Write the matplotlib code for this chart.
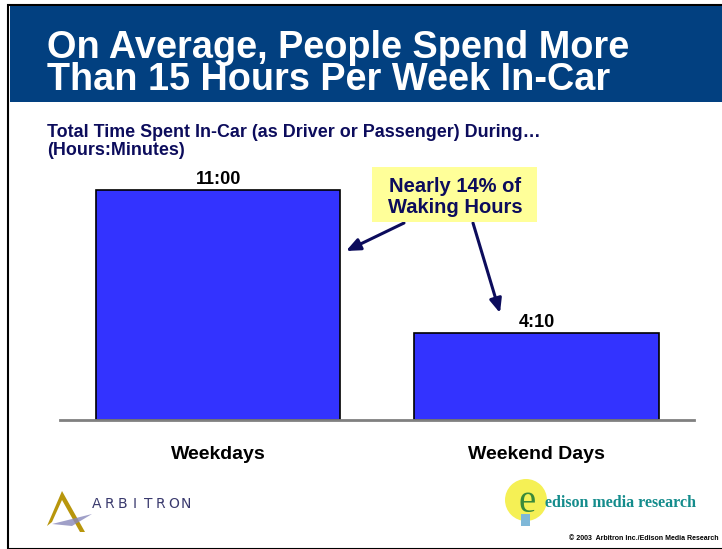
import matplotlib
matplotlib.use('Agg')
import matplotlib.pyplot as plt
from matplotlib.patches import Rectangle, Ellipse, Polygon, FancyArrowPatch
import numpy as np

# data: minutes spent in-car
categories = ['Weekdays', 'Weekend Days']
minutes = [660, 250]
value_labels = ['11:00', '4:10']

title = 'On Average, People Spend More\nThan 15 Hours Per Week In-Car'
subtitle = 'Total Time Spent In-Car (as Driver or Passenger) During\u2026\n(Hours:Minutes)'
callout = 'Nearly 14% of\nWaking Hours'

W, H = 722, 549
NAVY = '#0c0c5c'
plt.rcParams['font.family'] = ['Liberation Sans', 'DejaVu Sans']

fig = plt.figure(figsize=(W / 100, H / 100), dpi=100)
fig.patch.set_facecolor('white')

def fx(x):
    return x / W

def fy(y):
    return 1 - y / H

# frame and header band
fig.patches.append(Rectangle((fx(8), fy(549)), 1, fy(5) - fy(549), transform=fig.transFigure,
                             facecolor='none', edgecolor='black', lw=1.5))
fig.patches.append(Rectangle((fx(10), fy(102)), 1, fy(6) - fy(102), transform=fig.transFigure,
                             facecolor='#024080', edgecolor='none'))
fig.text(fx(47), fy(90), title, color='white', fontsize=27.3, fontweight='bold',
         va='baseline', ha='left', linespacing=0.87)

fig.text(fx(47), fy(159), subtitle, color=NAVY, fontsize=12.9, fontweight='bold',
         va='bottom', ha='left', linespacing=1.07)

# bar chart
ax = fig.add_axes([fx(60), fy(420), fx(694) - fx(60), fy(160) - fy(420)])
x = np.arange(len(categories))
bars = ax.bar(x, minutes, width=0.767, color='#3333ff', edgecolor='black', lw=1.2, zorder=2)
ax.set_xlim(-0.497, 1.495)
ax.set_ylim(0, 660 * 260 / 230)
for b, lab in zip(bars, value_labels):
    ax.text(b.get_x() + b.get_width() / 2, b.get_height() + 660 * 2 / 230, lab,
            ha='center', va='bottom', fontsize=13, fontweight='bold', color='black')
for s in ['top', 'left', 'right']:
    ax.spines[s].set_visible(False)
ax.spines['bottom'].set_color('#808080')
ax.spines['bottom'].set_linewidth(2)
ax.set_yticks([])
ax.set_xticks(x)
ax.set_xticklabels(categories, fontsize=14, fontweight='bold')
ax.tick_params(axis='x', length=0, pad=19)

# callout with arrows
fig.patches.append(Rectangle((fx(372), fy(222)), fx(165), fy(167) - fy(222),
                             transform=fig.transFigure, facecolor='#ffff99', edgecolor='none'))
fig.text(fx(455), fy(197), callout, ha='center', va='center', color=NAVY,
         fontsize=14.5, fontweight='bold', linespacing=1.12)
arrow = dict(arrowstyle='-|>,head_length=0.7,head_width=0.3', color=NAVY, lw=2.2,
             shrinkA=0, shrinkB=0, mutation_scale=12, transform=fig.transFigure)
fig.add_artist(FancyArrowPatch((fx(404), fy(223)), (fx(346), fy(251)), **arrow))
fig.add_artist(FancyArrowPatch((fx(473), fy(223)), (fx(500), fy(313)), **arrow))

# arbitron logo
fig.patches.append(Polygon([[fx(47), fy(526)], [fx(62), fy(491)], [fx(85), fy(532)],
                            [fx(80), fy(532)], [fx(62), fy(500)], [fx(52), fy(522)]],
                           closed=True, transform=fig.transFigure, facecolor='#b8960c',
                           edgecolor='none'))
fig.patches.append(Polygon([[fx(52), fy(524)], [fx(92), fy(514)], [fx(72), fy(526)]],
                           closed=True, transform=fig.transFigure, facecolor='#8888bb',
                           edgecolor='none', alpha=0.8))
for i, ch in enumerate('ARBITRON'):
    fig.text(fx(97 + i * 12.7), fy(504), ch, color='#3a3a6e', fontsize=10, va='center',
             ha='center', family='DejaVu Sans')

# edison logo
fig.patches.append(Ellipse((fx(526), fy(500)), fx(42), fy(0) - fy(42), transform=fig.transFigure,
                           facecolor='#f5f055', edgecolor='none'))
fig.patches.append(Rectangle((fx(521), fy(526)), fx(9), fy(0) - fy(12), transform=fig.transFigure,
                             facecolor='#7fb8d8', edgecolor='none'))
fig.text(fx(527), fy(503), 'e', color='#3a8a3a', fontsize=28, ha='center', va='center',
         family='Liberation Serif')
fig.text(fx(545), fy(503), 'edison media research', color='#148c8c', fontsize=11.5,
         fontweight='bold', ha='left', va='center', family='Liberation Serif')
fig.text(fx(719), fy(539), '\u00a9 2003  Arbitron Inc./Edison Media Research', color='black',
         fontsize=5.0, fontweight='bold', ha='right', va='center')

fig.savefig('out.png', dpi=100)
